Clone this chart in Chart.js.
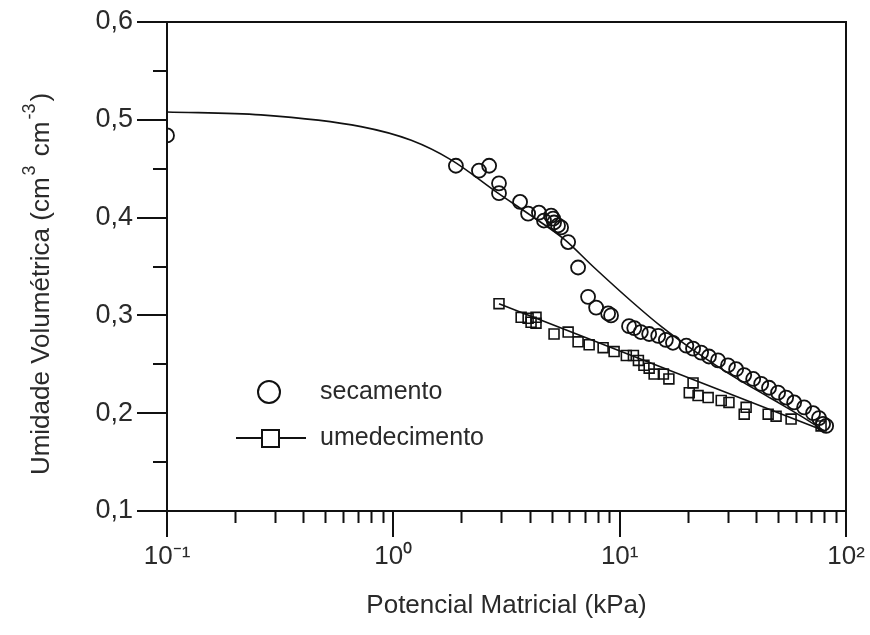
<!DOCTYPE html>
<html lang="pt">
<head>
    <meta charset="UTF-8">
    <title>Curva de retenção</title>
    <script src="https://cdn.jsdelivr.net/npm/chart.js"></script>
    <style>
        body { margin: 0; background: #fff; }
        #wrap { width: 870px; height: 635px; }
    </style>
</head>
<body>
<div id="wrap"><canvas id="chart" width="870" height="635"></canvas></div>
<script>
// secamento (drying) - measured points
const secX = [0.1, 1.89, 2.39, 2.65, 2.93, 2.93, 3.63, 3.94, 4.40, 4.63, 4.98, 5.08, 5.13, 5.34, 5.51,
    5.92, 6.55, 7.25, 7.87, 8.89, 9.16, 11.0, 11.6, 12.4, 13.5, 14.8, 16.0, 17.2, 19.7, 21.1,
    22.9, 24.8, 27.2, 30.1, 32.7, 35.5, 38.9, 42.2, 45.7, 50.1, 54.4, 59.0, 65.3, 71.5, 76.0, 79.2, 81.7];
const secY = [0.484, 0.453, 0.448, 0.453, 0.435, 0.425, 0.416, 0.404, 0.405, 0.397, 0.402, 0.399, 0.395, 0.392, 0.390,
    0.375, 0.349, 0.319, 0.308, 0.302, 0.300, 0.289, 0.287, 0.283, 0.281, 0.279, 0.275, 0.272, 0.269, 0.266,
    0.262, 0.258, 0.254, 0.249, 0.245, 0.239, 0.235, 0.230, 0.226, 0.221, 0.216, 0.211, 0.206, 0.200, 0.195, 0.189, 0.187];

// umedecimento (wetting) - measured points
const umeX = [2.93, 3.67, 3.94, 4.06, 4.27, 4.27, 5.13, 5.92, 6.55, 7.33, 8.45, 9.45, 10.7, 11.5, 12.1,
    12.8, 13.5, 14.2, 15.6, 16.5, 21.1, 20.3, 22.2, 24.6, 28.1, 30.4, 36.2, 35.5, 45.3, 49.1, 57.2, 77.6];
const umeY = [0.312, 0.298, 0.297, 0.293, 0.298, 0.292, 0.281, 0.283, 0.273, 0.270, 0.267, 0.263, 0.259, 0.259, 0.254,
    0.249, 0.246, 0.240, 0.240, 0.235, 0.231, 0.221, 0.218, 0.216, 0.213, 0.211, 0.206, 0.199, 0.199, 0.197, 0.194, 0.187];

// fitted curves
const fitSecX = [0.1, 0.26, 0.72, 1.2, 1.8, 2.9, 4.06, 5.68, 7.71, 11.2, 15.2, 21.3, 31.1, 46.7, 63.3, 80.1];
const fitSecY = [0.508, 0.505, 0.493, 0.479, 0.459, 0.425, 0.402, 0.378, 0.349, 0.315, 0.289, 0.264, 0.239, 0.215, 0.197, 0.182];
const fitUmeX = [2.93, 80.1];
const fitUmeY = [0.312, 0.182];

// axes
const xMajor = [0.1, 1, 10, 100];
const xTickLabels = ['10\u207B\u00B9', '10\u2070', '10\u00B9', '10\u00B2'];
const yMajor = [0.1, 0.2, 0.3, 0.4, 0.5, 0.6];
const yMinor = [0.15, 0.25, 0.35, 0.45, 0.55];
const yTitleParts = ['Umidade Volumétrica (cm', '3', ' cm', '-3', ')'];

const INK = '#111';
const TEXT = '#2a2a2a';
const FONT = "'Liberation Sans', Arial, sans-serif";

const toPts = (xs, ys) => xs.map((x, i) => ({ x: x, y: ys[i] }));

// minor ticks, top/right frame, y title with superscripts and the inset legend
const extras = {
    id: 'extras',
    afterDraw(chart) {
        const ctx = chart.ctx;
        const a = chart.chartArea;
        const xs = chart.scales.x, ys = chart.scales.y;
        ctx.save();
        ctx.strokeStyle = INK;
        ctx.lineWidth = 2;
        ctx.beginPath();
        ctx.moveTo(a.left, a.top); ctx.lineTo(a.right, a.top); ctx.lineTo(a.right, a.bottom);
        // x minor ticks
        for (let d = 0.1; d < 100; d *= 10) {
            for (let k = 2; k <= 9; k++) {
                const px = Math.round(xs.getPixelForValue(d * k)) + 0.5;
                ctx.moveTo(px, a.bottom); ctx.lineTo(px, a.bottom + 12);
            }
        }
        // y minor ticks
        yMinor.forEach(v => {
            const py = Math.round(ys.getPixelForValue(v));
            ctx.moveTo(a.left, py); ctx.lineTo(a.left - 14, py);
        });
        ctx.stroke();

        // y axis title, rotated, with raised exponents
        ctx.save();
        ctx.translate(42, 284);
        ctx.rotate(-Math.PI / 2);
        ctx.fillStyle = TEXT;
        ctx.textBaseline = 'middle';
        const big = '26px ' + FONT, small = '18px ' + FONT;
        let total = 0;
        yTitleParts.forEach((p, i) => {
            ctx.font = i % 2 ? small : big;
            total += ctx.measureText(p).width + (i % 2 ? 4 : 0);
        });
        let cx = -total / 2;
        yTitleParts.forEach((p, i) => {
            ctx.font = i % 2 ? small : big;
            ctx.fillText(p, cx + (i % 2 ? 2 : 0), i % 2 ? -12 : 0);
            cx += ctx.measureText(p).width + (i % 2 ? 4 : 0);
        });
        ctx.restore();

        // legend
        ctx.font = '25px ' + FONT;
        ctx.fillStyle = TEXT;
        ctx.textBaseline = 'middle';
        ctx.lineWidth = 2;
        ctx.beginPath();
        ctx.arc(269, 392, 11, 0, Math.PI * 2);
        ctx.stroke();
        ctx.fillText('secamento', 320, 392);
        ctx.beginPath();
        ctx.moveTo(236, 438); ctx.lineTo(306, 438);
        ctx.stroke();
        ctx.fillStyle = '#fff';
        ctx.fillRect(262, 430, 17, 17);
        ctx.strokeRect(262, 430, 17, 17);
        ctx.fillStyle = TEXT;
        ctx.fillText('umedecimento', 320, 438);
        ctx.restore();
    }
};

new Chart(document.getElementById('chart'), {
    type: 'scatter',
    data: {
        datasets: [
            {
                label: 'ajuste secamento',
                type: 'line',
                data: toPts(fitSecX, fitSecY),
                borderColor: INK,
                borderWidth: 1.6,
                pointRadius: 0,
                cubicInterpolationMode: 'monotone',
                fill: false
            },
            {
                label: 'ajuste umedecimento',
                type: 'line',
                data: toPts(fitUmeX, fitUmeY),
                borderColor: INK,
                borderWidth: 1.6,
                pointRadius: 0,
                fill: false
            },
            {
                label: 'secamento',
                data: toPts(secX, secY),
                pointStyle: 'circle',
                pointRadius: 7,
                pointBorderWidth: 1.8,
                pointBorderColor: INK,
                pointBackgroundColor: 'rgba(255,255,255,0)'
            },
            {
                label: 'umedecimento',
                data: toPts(umeX, umeY),
                pointStyle: 'rect',
                pointRadius: 7,
                pointBorderWidth: 1.6,
                pointBorderColor: INK,
                pointBackgroundColor: 'rgba(255,255,255,0)'
            }
        ]
    },
    options: {
        responsive: false,
        animation: false,
        devicePixelRatio: 1,
        layout: { padding: { top: 22, right: 24, left: 0, bottom: 0 } },
        plugins: { legend: { display: false }, tooltip: { enabled: false } },
        scales: {
            x: {
                type: 'logarithmic',
                min: 0.1,
                max: 100,
                afterBuildTicks: s => { s.ticks = xMajor.map(v => ({ value: v, major: true })); },
                afterFit: s => { s.height = 124; },
                ticks: {
                    callback: (v, i) => xTickLabels[i],
                    color: TEXT,
                    font: { family: FONT, size: 26 },
                    padding: 4,
                    maxRotation: 0,
                    autoSkip: false
                },
                grid: { drawOnChartArea: false, tickLength: 26, color: INK, lineWidth: 2 },
                border: { display: true, color: INK, width: 2 },
                title: {
                    display: true,
                    text: 'Potencial Matricial (kPa)',
                    color: TEXT,
                    font: { family: FONT, size: 26 },
                    padding: { top: 0, bottom: 14 }
                }
            },
            y: {
                min: 0.1,
                max: 0.6,
                afterBuildTicks: s => { s.ticks = yMajor.map(v => ({ value: v })); },
                afterFit: s => { s.width = 167; },
                ticks: {
                    callback: v => v.toFixed(1).replace('.', ','),
                    color: TEXT,
                    font: { family: FONT, size: 27 },
                    padding: 4
                },
                grid: { drawOnChartArea: false, tickLength: 30, color: INK, lineWidth: 2 },
                border: { display: true, color: INK, width: 2 }
            }
        }
    },
    plugins: [extras]
});
</script>
</body>
</html>
